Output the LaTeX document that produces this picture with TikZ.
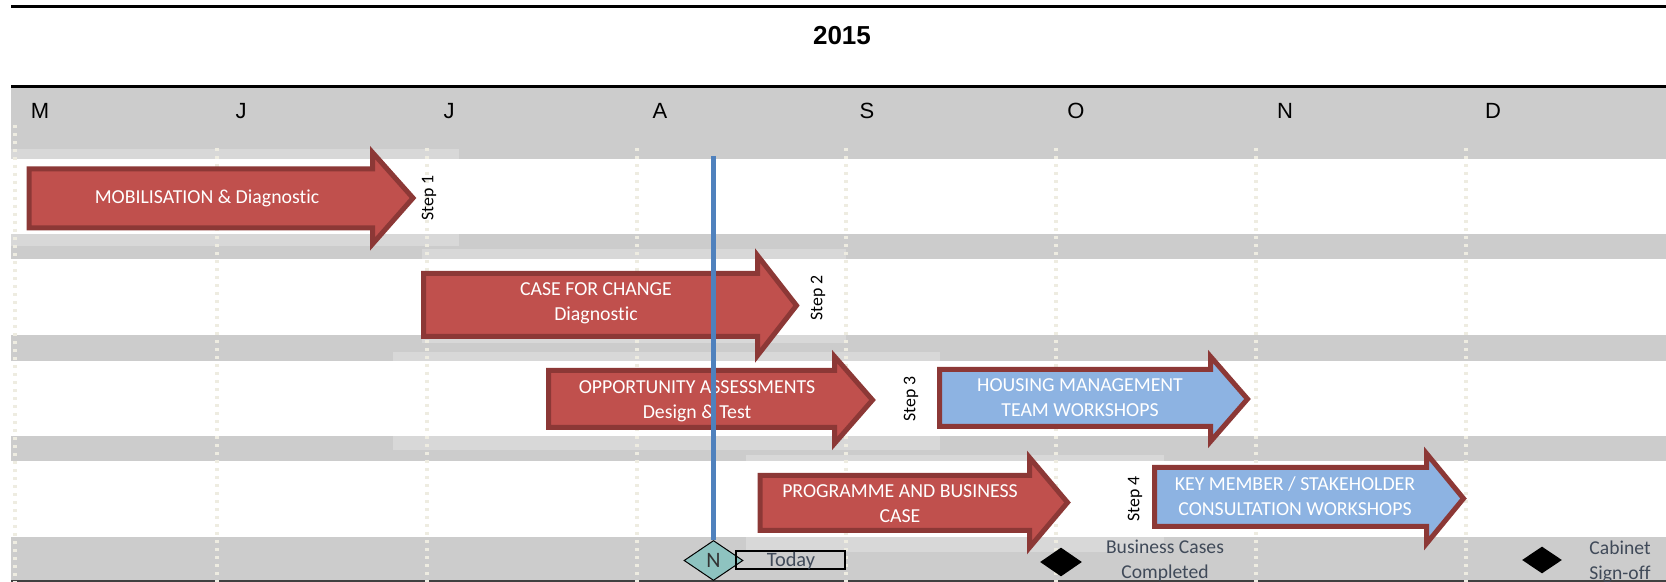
\documentclass[tikz,border=0pt]{standalone}
\usepackage{fontspec}
\setmainfont{Carlito}[Ligatures=NoCommon]
\newfontfamily\arialf{Liberation Sans}
\usetikzlibrary{shapes.geometric}
\definecolor{bandgray}{HTML}{CCCCCC}
\definecolor{dotcol}{HTML}{EEECE1}
\definecolor{redfill}{HTML}{C0504D}
\definecolor{redline}{HTML}{8C3836}
\definecolor{bluefill}{HTML}{8DB3E2}
\definecolor{todayline}{HTML}{4F81BD}
\definecolor{ndiamfill}{HTML}{8EC3C0}
\definecolor{labtext}{HTML}{404A59}
\tikzset{
  band/.style={fill=bandgray, draw=none},
  overlay/.style={fill=white, fill opacity=0.25, draw=none},
  gridline/.style={draw=dotcol, line width=1.75pt, dash pattern=on 1.75pt off 2.25pt},
  redarrow/.style={fill=redfill, draw=redline, line width=2.5pt, miter limit=10},
  bluearrow/.style={fill=bluefill, draw=redline, line width=2.5pt, miter limit=10},
  arrtext/.style={text=white, font=\fontsize{9.9}{12.5}\selectfont, align=center, inner sep=0pt},
  steplabel/.style={rotate=90, font=\fontsize{8.9}{10}\selectfont, inner sep=0pt},
  month/.style={font=\arialf\fontsize{11}{13}\selectfont, inner sep=0pt},
  milestone/.style={diamond, fill=black, draw=none, inner sep=0pt},
  mslabel/.style={text=labtext, font=\fontsize{9.8}{12.5}\selectfont, align=center, inner sep=0pt}
}
\begin{document}
\begin{tikzpicture}[x=0.5pt, y=-0.5pt]
\useasboundingbox (0,0) rectangle (1666,582);
\clip (0,0) rectangle (1666,582);
% gray bands
\path[band] (11,87) rectangle (1666,159);
\path[band] (11,234) rectangle (1666,259);
\path[band] (11,335) rectangle (1666,361);
\path[band] (11,436) rectangle (1666,461);
\path[band] (11,537) rectangle (1666,582);
% light task shadows
\path[overlay] (11,149) rectangle (459,246);
\path[overlay] (422,249) rectangle (846,343);
\path[overlay] (393,352) rectangle (940,450);
\path[overlay] (746,455) rectangle (1164,552);
% rules
\draw[black, line width=1.5pt] (11,7) -- (1666,7);
\draw[black, line width=1.5pt] (11,87) -- (1666,87);
\draw[black!75, line width=0.75pt] (11,581) -- (1666,581);
% dotted month lines
\draw[gridline] (15,125) -- (15,582);
\foreach \gx in {217,427,637,846,1056,1256,1466}
  \draw[gridline] (\gx,148) -- (\gx,582);
% title and months
\node[font=\arialf\bfseries\fontsize{13}{15}\selectfont, inner sep=0pt] (title) at (842,36) {2015};
\node[month] (m1) at (40,111) {M};
\node[month] (m2) at (241,111) {J};
\node[month] (m3) at (449,111) {J};
\node[month] (m4) at (660,111) {A};
\node[month] (m5) at (867,111) {S};
\node[month] (m6) at (1076,111) {O};
\node[month] (m7) at (1285,111) {N};
\node[month] (m8) at (1493,111) {D};
% arrows
\draw[redarrow] (29,169) -- (372.5,169) -- (372.5,152.5) -- (413,198) -- (372.5,244) -- (372.5,228) -- (29,228) -- cycle;
\node[arrtext] (a1) at (207,198) {MOBILISATION \& Diagnostic};
\node[steplabel] (s1) at (429,198) {Step 1};

\draw[redarrow] (423.5,273.5) -- (757.5,273.5) -- (757.5,255.5) -- (796.5,305.5) -- (757.5,355.5) -- (757.5,336.5) -- (423.5,336.5) -- cycle;
\node[arrtext] (a2) at (596,303) {CASE FOR CHANGE\\Diagnostic};
\node[steplabel] (s2) at (818,298) {Step 2};

\draw[redarrow] (548.5,370.5) -- (834.5,370.5) -- (834.5,356.5) -- (872.5,400) -- (834.5,443.5) -- (834.5,427.5) -- (548.5,427.5) -- cycle;
\node[arrtext] (a3) at (697,401) {OPPORTUNITY ASSESSMENTS\\Design \& Test};
\node[steplabel] (s3) at (911,399) {Step 3};

\draw[bluearrow] (939.5,369.5) -- (1210.5,369.5) -- (1210.5,356.5) -- (1247.5,399) -- (1210.5,441.5) -- (1210.5,426.5) -- (939.5,426.5) -- cycle;
\node[arrtext] (a3b) at (1080,398) {HOUSING MANAGEMENT\\TEAM WORKSHOPS};

\draw[redarrow] (760,475.5) -- (1029.5,475.5) -- (1029.5,457.5) -- (1067.5,502.5) -- (1029.5,547.5) -- (1029.5,530.5) -- (760,530.5) -- cycle;
\node[arrtext] (a4) at (900,504) {PROGRAMME AND BUSINESS\\CASE};
\node[steplabel] (s4) at (1135,499) {Step 4};

\draw[bluearrow] (1154.5,467.5) -- (1426.5,467.5) -- (1426.5,453.5) -- (1463.5,498.5) -- (1426.5,543.5) -- (1426.5,526.5) -- (1154.5,526.5) -- cycle;
\node[arrtext] (a4b) at (1295,496) {KEY MEMBER / STAKEHOLDER\\CONSULTATION WORKSHOPS};

% today marker
\coordinate (ltop) at (713.5,156);
\node[diamond, fill=ndiamfill, draw=black, line width=0.5pt, minimum width=29.5pt, minimum height=20pt, inner sep=0pt, font=\fontsize{11}{13}\selectfont, text=black!80] (nd) at (713.5,560.5) {N};
\draw[todayline, line width=2.3pt] (ltop) -- (nd.north);
\node[draw=black, line width=1pt, minimum width=54.5pt, minimum height=9.25pt, inner sep=0pt] (today) at (790.5,560) {};
\node[text=labtext, font=\fontsize{10.2}{12}\selectfont, inner sep=0pt, anchor=base] (todaytxt) at (791,566.7) {Today};

% milestones
\node[milestone, minimum width=21pt, minimum height=14.5pt] (bc) at (1061,562) {};
\node[mslabel] (bctxt) at (1165,561) {Business Cases\\Completed};
\node[milestone, minimum width=20pt, minimum height=13.5pt] (cab) at (1542,560) {};
\node[mslabel] (cabtxt) at (1620,562) {Cabinet\\Sign-off};
\end{tikzpicture}
\end{document}
